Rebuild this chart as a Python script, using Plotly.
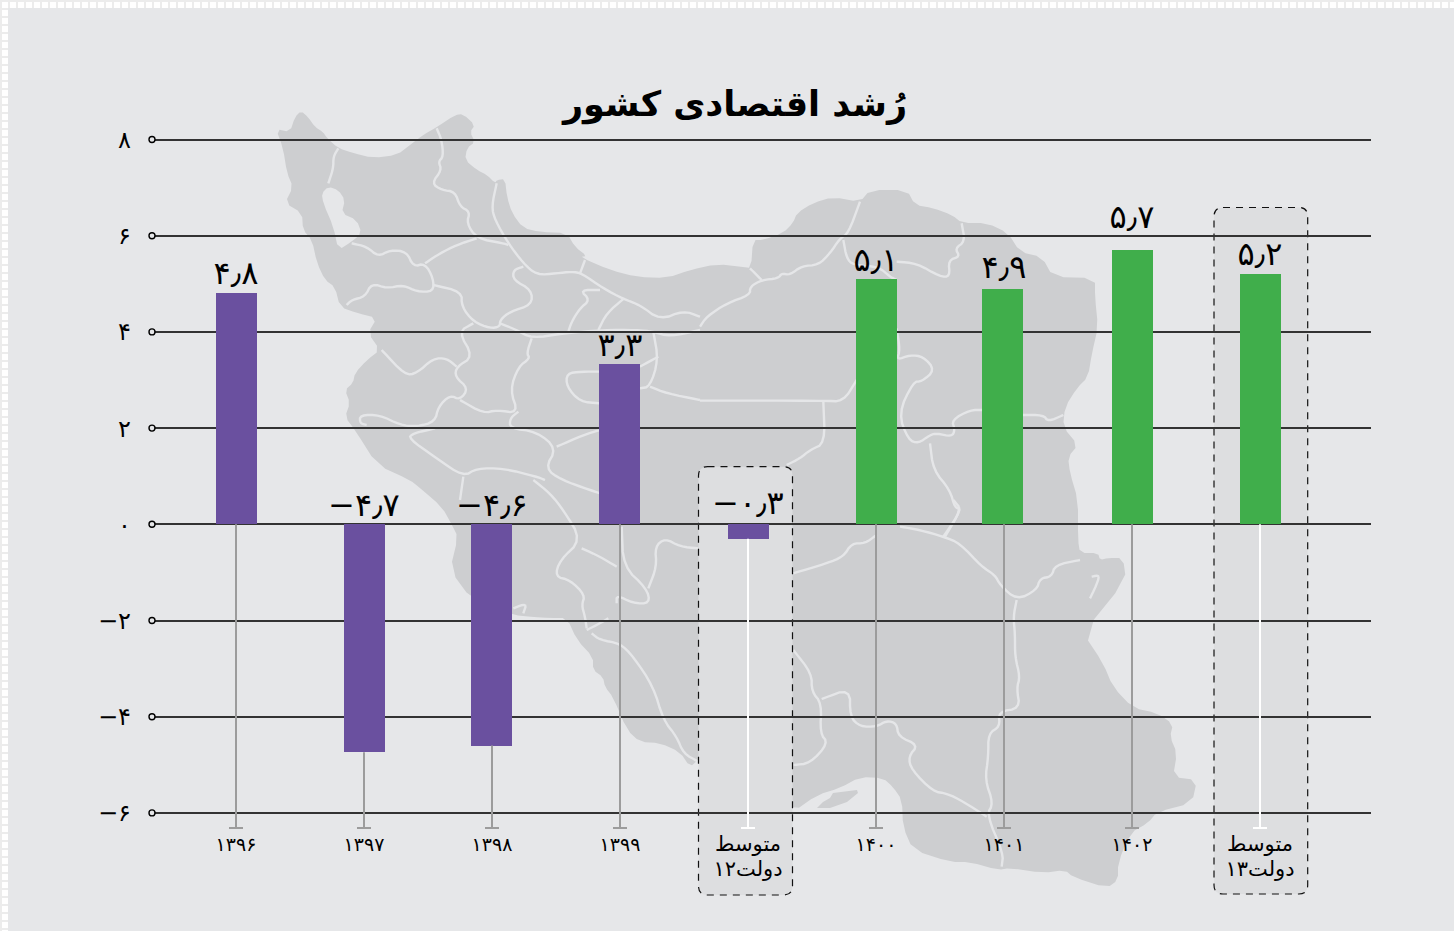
import plotly.graph_objects as go

# ---- data ----
categories = ["۱۳۹۶", "۱۳۹۷", "۱۳۹۸", "۱۳۹۹", "متوسط<br>دولت۱۲", "۱۴۰۰", "۱۴۰۱", "۱۴۰۲", "متوسط<br>دولت۱۳"]
growth = [4.8, -4.74, -4.6, 3.34, -0.3, 5.1, 4.9, 5.7, 5.2]
value_labels = ["۴٫۸", "−۴٫۷", "−۴٫۶", "۳٫۳", "−۰٫۳", "۵٫۱", "۴٫۹", "۵٫۷", "۵٫۲"]
bar_colors = ["#6a509f"] * 5 + ["#40ae4b"] * 4
is_average = [False, False, False, False, True, False, False, False, True]
y_ticks = [8, 6, 4, 2, 0, -2, -4, -6]
y_ticklabels = ["۸", "۶", "۴", "۲", "۰", "−۲", "−۴", "−۶"]
title_text = "رُشد اقتصادی کشور"

# small hand placement adjustments, in pixels
label_lift_px = [1, 0, 0, 0, 2, 0, 3, 14, 1]
bar_shift_px = [0, 0, -1, -1, 0, 0, -2, 0, 0]

# ---- layout geometry (page pixels) ----
PAGE_OFFSET = 8
PLOT_L, PLOT_R, PLOT_T, PLOT_B = 152, 1371, 120, 828
FIG_W, FIG_H = 1446, 923
PX_PER_X = 128
PX_PER_Y = 48.1
X_RANGE = [(152 - 236) / PX_PER_X, (1371 - 236) / PX_PER_X]
Y_TOP = 8 + (139.5 - PLOT_T) / PX_PER_Y
Y_BOTTOM = 8 - (PLOT_B - 139.5) / PX_PER_Y
BG = "#e6e7e9"
MAP_FILL = "#cdced0"
MAP_LINE = "#e5e6e8"
PANEL_FILL = "#dddee0"


def paper(x, y):
    return (round((x - PLOT_L) / (PLOT_R - PLOT_L), 5), round((PLOT_B - y) / (PLOT_B - PLOT_T), 5))


def path(points, close=False):
    parts = []
    for i, (x, y) in enumerate(points):
        px, py = paper(x, y)
        parts.append(f"{'M' if i == 0 else 'L'}{px},{py}")
    return " ".join(parts) + (" Z" if close else "")


def from_zoom(points, ox, oy):
    return [(ox + x / 3, oy + y / 3) for x, y in points]


def soften(points, closed=False, rounds=1):
    for _ in range(rounds):
        out = [] if closed else [points[0]]
        n = len(points)
        for i in range(n if closed else n - 1):
            a, b = points[i], points[(i + 1) % n]
            out.append((a[0] * 0.75 + b[0] * 0.25, a[1] * 0.75 + b[1] * 0.25))
            out.append((a[0] * 0.25 + b[0] * 0.75, a[1] * 0.25 + b[1] * 0.75))
        if not closed:
            out.append(points[-1])
        points = out
    return points


# ---- decorative backdrop: silhouette of Iran ----
map_outline = [
    (276,129),(290,132),(295,117),(301,111),(308,117),(315,127),(323,132),(327,138),(338,148),(353,153),
    (373,158),(397,155),(410,145),(423,135),(437,127),(455,115),(463,114),(475,125),(470,132),(475,142),
    (467,148),(465,160),(477,170),(487,175),(495,183),(497,180),(505,179),(507,197),(512,213),(523,228),
    (540,232),(567,233),(575,247),(587,256),(580,257),(610,270),(637,277),(667,278),(690,270),(717,264),
    (743,267),(751,268),(753,240),(763,240),(783,233),(793,223),(797,213),(813,203),(833,197),(860,202),
    (870,190),(907,190),(915,205),(933,208),(952,215),(962,223),(987,223),(1008,233),(1020,252),(1042,257),
    (1053,277),(1095,278),(1095,297),(1098,327),(1092,353),(1088,377),(1077,388),(1065,407),(1063,427),
    (1078,445),(1068,457),(1070,473),(1078,500),(1078,540),(1080,553),(1098,553),(1100,560),(1108,558),
    (1123,558),(1126,580),(1083,633),(1103,663),(1113,687),(1133,708),(1157,713),(1173,724),(1170,737),
    (1177,753),(1173,777),(1197,780),(1192,803),(1157,812),(1148,823),(1130,833),(1118,863),(1118,880),
    (1107,888),(1073,877),(1065,870),(1043,873),(1010,868),(998,870),(970,862),(950,862),(913,850),(903,827),
    (902,800),(893,787),(883,778),(860,777),(840,788),(817,795),(793,812),(760,790),(698,760),(690,767),
    (680,752),(660,743),(640,742),(627,730),(613,697),(605,687),(603,677),(593,670),(593,657),(577,640),
    (567,618),(550,618),(533,617),(513,615),(472,600),(450,570),(458,537),(452,525),(442,507),(420,488),
    (410,480),(377,465),(355,430),(345,417),(350,403),(345,390),(353,383),(355,373),(367,360),(380,350),
    (368,333),(377,318),(357,313),(340,307),(335,287),(325,280),(317,263),(312,240),(303,230),(302,213),
    (285,203),(293,187),(287,173),(283,148),
]
urmia = from_zoom([(175,260),(205,270),(225,300),(215,340),(260,360),(275,400),(245,425),(205,450),(190,380),(160,310),(155,280)], 270, 100)
qeshm = [(817,808),(823,802),(830,798),(833,793),(857,790),(858,793),(847,802),(830,808)]

borders = []
for ox, oy, lines in [
    (270, 100, [
        [(205,145),(190,170),(190,205),(175,250)],
        [(245,430),(290,440),(325,470),(360,450),(410,455),(430,500),(465,490),(490,535),(490,575),(440,575),(400,555),(350,565),(305,550),(285,590),(245,600),(230,615)],
        [(500,85),(515,120),(520,170),(505,185),(515,210),(485,250),(515,270),(555,275),(570,320),(600,335),(590,370),(620,415),(700,430),(715,435)],
        [(620,415),(560,435),(510,460),(465,490)],
        [(680,250),(665,320),(675,360),(715,430),(760,490),(800,525),(860,520),(905,515),(935,520),(1000,565),(1060,597),(1110,615),(1170,660),(1240,632),(1290,650)],
        [(930,520),(945,480)],
        [(490,555),(575,575),(575,620),(610,665),(660,685),(690,680),(690,660),(720,635),(785,615),(785,570),(730,540),(730,510),(760,500)],
        [(690,670),(740,690),(785,715),(880,700),(1000,690),(1100,690),(1150,695),(1200,710),(1290,690)],
        [(990,570),(930,570),(960,600),(930,625),(905,665),(895,695)],
        [(1060,597),(1010,640),(985,690)],
        [(610,670),(565,695),(610,770),(560,800),(555,830),(595,865),(570,900),(540,885),(505,920),(495,965),(440,980),(390,975),(330,945),(270,945),(270,970),(290,975)],
        [(335,750),(405,825),(440,820),(490,775),(530,775),(560,800)],
        [(570,900),(640,940),(680,930),(745,940),(720,870),(745,800),(780,775),(770,760),(785,715)],
        [(745,935),(720,955),(720,985),(800,995),(860,1045),(825,1105),(875,1140),(960,1170),(990,1180)],
        [(860,1040),(940,1005),(990,990)],
        [(495,985),(430,1000),(415,1015),(500,1075),(580,1130),(620,1105),(700,1105),(800,1130),(825,1140)],
        [(580,1130),(570,1200)],
        [(990,815),(935,815),(890,820),(890,860),(930,905),(990,910)],
        [(1150,695),(1165,780),(1140,860),(1110,865)],
        [(1140,860),(1190,880),(1290,900)],
        [(1110,800),(1165,770)],
    ]),
    (400, 480, [
        [(400,0),(450,40),(490,90),(545,180),(480,240),(465,290),(510,300),(555,345),(545,375),(555,410),(560,445)],
        [(545,205),(600,230),(650,260)],
        [(665,140),(670,260),(740,325),(750,370),(700,370),(650,345),(650,370)],
        [(745,325),(770,260),(765,200),(795,175),(840,200),(895,205)],
        [(560,450),(600,430),(625,415)],
        [(575,460),(600,480),(660,490),(700,530),(760,620),(790,720),(830,770),(850,820),(895,845)],
        [(340,385),(380,370),(370,400)],
    ]),
    (700, 180, [
        [(480,65),(445,160),(420,175),(390,220),(355,255),(305,258),(270,285),(245,280),(235,295),(185,300),(150,320),(150,345),(80,370),(20,410),(0,440)],
        [(150,265),(185,300)],
        [(430,180),(440,235),(460,255),(535,260),(570,290),(590,300)],
        [(590,245),(650,250),(720,290),(750,290),(745,240),(780,230),(765,205),(795,185),(785,130)],
        [(590,445),(600,510),(590,540),(630,525),(670,530),(705,570),(665,605),(640,605),(595,700),(625,780),(655,790),(690,765),(710,760),(755,770),(765,750),(755,720),(810,690),(850,690)],
        [(965,705),(1030,705),(1045,725),(1090,705)],
        [(690,790),(700,870),(750,930),(765,985),(785,985),(735,1070)],
        [(0,662),(370,662),(430,665),(470,600)],
        [(370,665),(375,790),(330,810),(300,835),(260,855)],
    ]),
    (790, 500, [
        [(330,80),(390,90),(460,110),(510,130),(575,200),(615,225),(630,255),(680,300),(740,270),(750,235),(785,230),(795,195),(870,180)],
        [(460,110),(515,30),(490,0)],
        [(680,300),(670,350),(675,400),(675,470),(690,530),(680,565),(690,625),(625,635),(630,680),(595,700),(595,770),(585,840),(610,910),(590,945),(640,1060),(635,1100)],
        [(10,450),(65,520),(65,575),(95,610),(90,700),(115,730),(60,790),(10,795)],
        [(95,597),(180,565),(180,650),(210,680),(260,680),(290,662),(320,670),(325,710),(385,735),(355,770),(365,810),(430,875),(470,880),(520,905),(590,950)],
        [(10,220),(110,190),(160,170),(185,130),(225,130),(260,105)],
        [(905,230),(930,225),(915,265),(900,295)],
    ]),
]:
    for line in lines:
        borders.append(soften(from_zoom(line, ox, oy), rounds=2))


def rounded_panel(l, t, r, b, rad=9):
    pts = lambda x, y: "{},{}".format(*paper(x, y))
    return (f"M{pts(l + rad, t)} L{pts(r - rad, t)} Q{pts(r, t)} {pts(r, t + rad)} "
            f"L{pts(r, b - rad)} Q{pts(r, b)} {pts(r - rad, b)} L{pts(l + rad, b)} "
            f"Q{pts(l, b)} {pts(l, b - rad)} L{pts(l, t + rad)} Q{pts(l, t)} {pts(l + rad, t)} Z")


shapes = [dict(type="path", xref="paper", yref="paper", layer="below",
               path=path(soften(map_outline, closed=True), True) + " " + path(soften(urmia, closed=True), True) + " " + path(qeshm, True),
               fillcolor=MAP_FILL, line=dict(width=0))]
for line in borders:
    shapes.append(dict(type="path", xref="paper", yref="paper", layer="below", path=path(line),
                       line=dict(color=MAP_LINE, width=2.4)))
for box in [(698.5, 466.7, 792.5, 895), (1214, 207.5, 1307.7, 894)]:
    shapes.append(dict(type="path", xref="paper", yref="paper", layer="between", path=rounded_panel(*box),
                       fillcolor=PANEL_FILL, line=dict(color="#111111", width=1.2, dash="7px,6px")))

# ---- traces ----
xs = list(range(len(categories)))
bar_width = 41 / PX_PER_X
fig = go.Figure()

fig.add_trace(go.Bar(x=xs, y=growth, width=bar_width, offset=[s / PX_PER_X - bar_width / 2 for s in bar_shift_px],
                     marker=dict(color=bar_colors, line=dict(width=0)), hoverinfo="skip", showlegend=False))

for flag, color in [(False, "#9c9c9c"), (True, "#ffffff")]:
    wx, wy, cx = [], [], []
    for x, v, avg in zip(xs, growth, is_average):
        if avg == flag:
            wx += [x, x, None]
            wy += [min(v, 0), Y_BOTTOM, None]
            cx.append(x)
    fig.add_trace(go.Scatter(x=wx, y=wy, mode="lines", line=dict(color=color, width=2), cliponaxis=False,
                             hoverinfo="skip", showlegend=False))
    fig.add_trace(go.Scatter(x=cx, y=[Y_BOTTOM] * len(cx), mode="markers", cliponaxis=False,
                             marker=dict(symbol="line-ew", size=10, line=dict(color=color, width=2)),
                             hoverinfo="skip", showlegend=False))

fig.add_trace(go.Scatter(x=xs, y=[max(v, 0) + lift / PX_PER_Y for v, lift in zip(growth, label_lift_px)],
                         mode="text", text=value_labels, textposition="top center", cliponaxis=False,
                         textfont=dict(family="DejaVu Sans", size=32, color="#000000"),
                         hoverinfo="skip", showlegend=False))

fig.add_trace(go.Scatter(x=[X_RANGE[0]] * len(y_ticks), y=y_ticks, mode="markers", cliponaxis=False,
                         marker=dict(symbol="circle", size=6, color=BG, line=dict(color="#000000", width=1.4)),
                         hoverinfo="skip", showlegend=False))

x_ticktext = [
    "<br>".join(f'<span style="font-size:{21 if avg else 19}px">{part}</span>' for part in cat.split("<br>"))
    for cat, avg in zip(categories, is_average)
]

fig.update_layout(
    width=FIG_W, height=FIG_H,
    margin=dict(l=PLOT_L - PAGE_OFFSET, r=PAGE_OFFSET + FIG_W - PLOT_R, t=PLOT_T - PAGE_OFFSET,
                b=PAGE_OFFSET + FIG_H - PLOT_B, pad=0),
    paper_bgcolor=BG, plot_bgcolor="rgba(0,0,0,0)",
    shapes=shapes, showlegend=False, bargap=0,
    title=dict(text=f"<b>{title_text}</b>", x=(735 - PAGE_OFFSET) / FIG_W, xanchor="center",
               y=1 - (104 - PAGE_OFFSET) / FIG_H, yanchor="middle",
               font=dict(family="DejaVu Sans", size=35, color="#000000")),
    xaxis=dict(range=X_RANGE, tickmode="array", tickvals=xs, ticktext=x_ticktext, showgrid=False, zeroline=False,
               showline=False, ticks="", ticklabelstandoff=3, fixedrange=True,
               tickfont=dict(family="DejaVu Sans", size=19, color="#000000")),
    yaxis=dict(range=[Y_BOTTOM, Y_TOP], tickmode="array", tickvals=y_ticks, ticktext=y_ticklabels, showgrid=True,
               gridcolor="#333333", gridwidth=1.5, zeroline=False, showline=False, ticks="", ticklabelstandoff=20,
               fixedrange=True, tickfont=dict(family="DejaVu Sans", size=24, color="#000000")),
)

# the page around the figure: thin grid on the top and left, no room for scrollbars
page_style = (
    "document.documentElement.style.overflow='hidden';"
    "document.body.style.margin='8px 0 0 8px';"
    "document.body.style.width='1446px';"
    "document.body.style.backgroundColor='#ffffff';"
    "document.body.style.backgroundImage="
    "'linear-gradient(#ececec 2px,transparent 2px),linear-gradient(90deg,#ececec 2px,transparent 2px)';"
    "document.body.style.backgroundSize='8px 8px';"
)
fig.write_html("out.html", config=dict(displayModeBar=False), post_script=page_style)
